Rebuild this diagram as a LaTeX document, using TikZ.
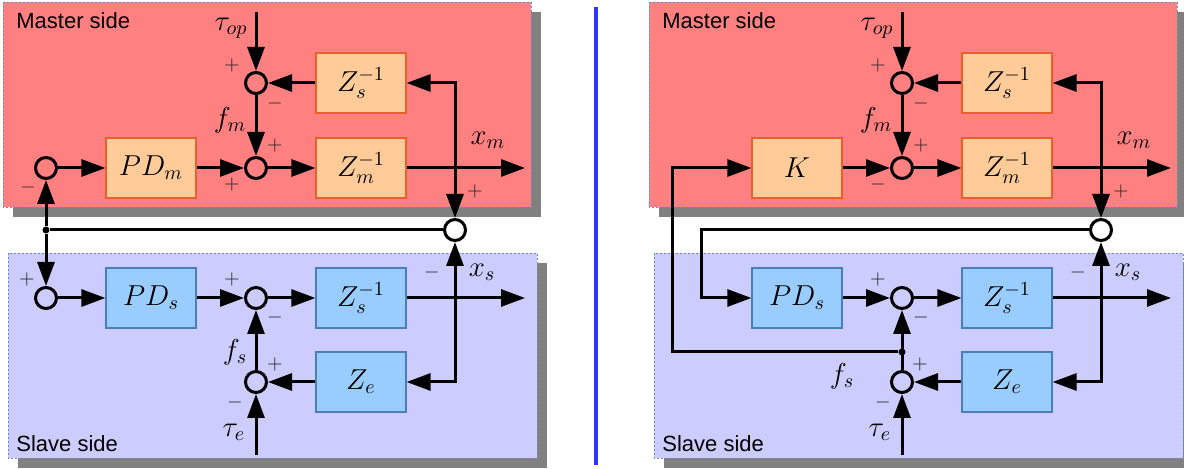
\documentclass[tikz,border=0pt]{standalone}
\usepackage{fontspec}
\setsansfont{Liberation Sans}
\usetikzlibrary{arrows.meta}

\definecolor{masterbg}{HTML}{FF8080}
\definecolor{slavebg}{HTML}{CCCCFF}
\definecolor{masterbox}{HTML}{FFCC99}
\definecolor{masteredge}{HTML}{E8602C}
\definecolor{slavebox}{HTML}{99CCFF}
\definecolor{slaveedge}{HTML}{4A7EBB}
\definecolor{frameedge}{HTML}{6C8EBF}
\definecolor{shadowgray}{HTML}{808080}
\definecolor{divider}{HTML}{3333FF}

\tikzset{
  >={Triangle[length=12pt,width=8.5pt]},
  wire/.style={line width=1.5pt},
  sig/.style={wire,->},
  sumpt/.style={circle, draw, line width=1.5pt, minimum size=10.5pt, inner sep=0pt},
  blockbase/.style={line width=0.6pt, minimum width=45pt, minimum height=30pt, inner sep=0pt,
                    font=\fontsize{14.4}{17}\selectfont},
  mbox/.style={blockbase, draw=masteredge, fill=masterbox},
  sbox/.style={blockbase, draw=slaveedge, fill=slavebox},
  sign/.style={font=\fontsize{10}{11}\selectfont, inner sep=0pt, text=black!85},
  lbl/.style={font=\fontsize{14.4}{17}\selectfont, inner sep=0pt},
  panel/.style={draw=frameedge, line width=0.4pt, dash pattern=on 1pt off 1pt},
  title/.style={font=\sffamily\fontsize{11}{13}\selectfont, anchor=west, inner sep=0pt},
  junction/.style={circle, fill, inner sep=0pt, minimum size=3.5pt}
}

% background frames with drop shadows
\newcommand\panelframes{%
  \fill[shadowgray] (13,12) rectangle (541,217);
  \draw[panel, fill=masterbg] (3,2) rectangle (531,207);
  \fill[shadowgray] (18,263) rectangle (547,468);
  \draw[panel, fill=slavebg] (8,253) rectangle (537,458);
  \node[title] (mt) at (16,21) {Master side};
  \node[title] (st) at (16,444) {Slave side};
}

% blocks and wires common to both schemes
\newcommand\sharedloop{%
  \node[sumpt] (s1) at (256,83) {};
  \node[sumpt] (s2) at (256,168) {};
  \node[mbox] (Zsm) at (361,83) {$Z_s^{-1}$};
  \node[mbox] (Zmm) at (361,168) {$Z_m^{-1}$};
  \node[sumpt] (sc) at (455,230) {};
  \node[sumpt] (s4) at (256,298) {};
  \node[sbox] (PDs) at (151,298) {$PD_s$};
  \node[sbox] (Zss) at (361,298) {$Z_s^{-1}$};
  \node[sumpt] (s5) at (256,382) {};
  \node[sbox] (Ze) at (361,382) {$Z_e$};
  \coordinate (top) at (256,12);
  \coordinate (xm) at (525,168);
  \coordinate (xs) at (525,298);
  \coordinate (bot) at (256,455);
  \node[lbl] (ltop) at (231,28) {$\tau_{op}$};
  \node[lbl] (lfm) at (230,120) {$f_m$};
  \node[lbl] (lxm) at (488,140) {$x_m$};
  \node[lbl] (lxs) at (482,272) {$x_s$};
  \node[lbl] (lte) at (234,432) {$\tau_e$};
  \draw[sig] (top) -- (s1);
  \draw[sig] (Zsm) -- (s1);
  \draw[sig] (s1) -- (s2);
  \draw[sig] (s2) -- (Zmm);
  \draw[sig] (Zmm) -- (xm);
  \draw[wire,<->] (Zsm.east) -| (sc.north);
  \draw[wire,<->] (Ze.east) -| (sc.south);
  \draw[sig] (PDs) -- (s4);
  \draw[sig] (s4) -- (Zss);
  \draw[sig] (Zss) -- (xs);
  \draw[sig] (Ze) -- (s5);
  \draw[sig] (bot) -- (s5);
  \node[sign] at (232,66) {$+$};
  \node[sign] at (275,104) {$-$};
  \node[sign] at (275,146) {$+$};
  \node[sign] at (475,192) {$+$};
  \node[sign] at (432,273) {$-$};
  \node[sign] at (232,280) {$+$};
  \node[sign] at (275,318) {$-$};
}

\begin{document}
\begin{tikzpicture}[x=0.5pt, y=-0.5pt]
\useasboundingbox (0,0) rectangle (1184,469);
\clip (0,0) rectangle (1184,469);

% ---- scheme with PD control on both sides ----
\begin{scope}[name prefix=L-]
  \panelframes
  \sharedloop
  \node[sumpt] (s0) at (46,168) {};
  \node[mbox] (PDm) at (151,168) {$PD_m$};
  \node[sumpt] (s3) at (46,298) {};
  \node[junction] (jn) at (46,230) {};
  \node[lbl] (lfs) at (235,352) {$f_s$};
  \draw[sig] (s0) -- (PDm);
  \draw[sig] (PDm) -- (s2);
  \draw[wire] (sc.west) -- (jn);
  \draw[sig] (jn) -- (s0);
  \draw[sig] (jn) -- (s3);
  \draw[sig] (s3) -- (PDs);
  \draw[sig] (s5) -- (s4);
  \node[sign] at (232,185) {$+$};
  \node[sign] at (28,188) {$-$};
  \node[sign] at (27,280) {$+$};
  \node[sign] at (275,365) {$+$};
  \node[sign] at (235,403) {$-$};
\end{scope}

% separator
\draw[divider, line width=2pt] (596,7) -- (596,465);

% ---- scheme with force feedback gain K ----
\begin{scope}[name prefix=R-, xshift=323pt]
  \panelframes
  \sharedloop
  \node[mbox] (K) at (151,168) {$K$};
  \node[junction] (jn) at (256,352) {};
  \coordinate (kc) at (26,352);
  \coordinate (pc) at (55,230);
  \node[lbl] (lfs) at (196,376) {$f_s$};
  \draw[sig] (K) -- (s2);
  \draw[sig] (s5) -- (s4);
  \draw[wire,->] (jn) -- (kc) |- (K.west);
  \draw[wire,->] (sc.west) -- (pc) |- (PDs.west);
  \node[sign] at (232,185) {$-$};
  \node[sign] at (274,365) {$+$};
  \node[sign] at (237,403) {$-$};
\end{scope}
\end{tikzpicture}
\end{document}
